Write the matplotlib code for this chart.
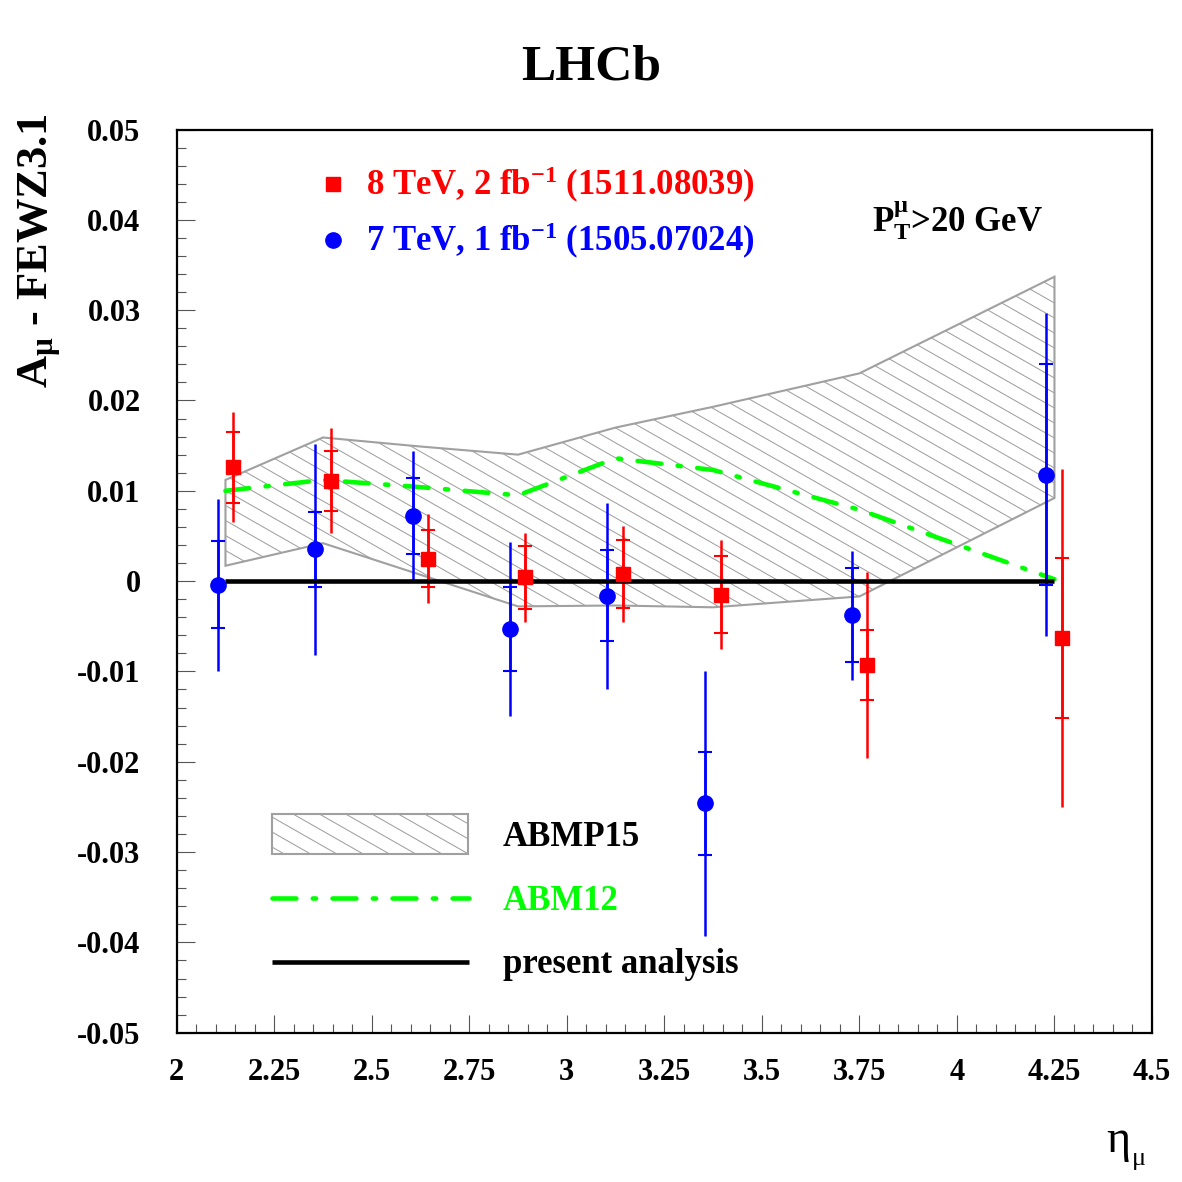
import numpy as np
import matplotlib
matplotlib.use("Agg")
import matplotlib.pyplot as plt
from matplotlib.patches import Polygon, Rectangle
from matplotlib.collections import LineCollection
from matplotlib.lines import Line2D

plt.rcParams['font.family'] = ['Liberation Serif', 'DejaVu Serif']
plt.rcParams['font.weight'] = 'bold'
plt.rcParams['mathtext.fontset'] = 'custom'
plt.rcParams['mathtext.rm'] = 'Liberation Serif:bold'
plt.rcParams['mathtext.it'] = 'Liberation Serif:bold'
plt.rcParams['mathtext.bf'] = 'Liberation Serif:bold'
plt.rcParams['mathtext.default'] = 'rm'

# ---------------- data ----------------
# 7 TeV, 1 fb^-1 (blue circles)
x7 = [2.106, 2.355, 2.606, 2.855, 3.104, 3.355, 3.730, 4.229]
y7 = [-0.0004, 0.0035, 0.0072, -0.0053, -0.0016, -0.0246, -0.0038, 0.0118]
stat7 = [0.0048, 0.0041, 0.0042, 0.0046, 0.0050, 0.0057, 0.0052, 0.0122]
tot7 = [0.0095, 0.0117, 0.0072, 0.0096, 0.0103, 0.0147, 0.0071, 0.0179]

# 8 TeV, 2 fb^-1 (red squares)
x8 = [2.144, 2.396, 2.644, 2.893, 3.144, 3.395, 3.770, 4.269]
y8 = [0.0126, 0.0111, 0.0025, 0.0004, 0.0008, -0.0015, -0.0093, -0.0063]
stat8 = [0.0039, 0.0033, 0.0032, 0.0035, 0.0038, 0.0043, 0.0039, 0.0089]
tot8 = [0.0061, 0.0058, 0.0049, 0.0049, 0.0053, 0.0060, 0.0103, 0.0187]

# theory curves
x_th = [2.125, 2.375, 2.625, 2.875, 3.125, 3.375, 3.75, 4.25]
abmp15_up = [0.0112, 0.0159, 0.0149, 0.0140, 0.0170, 0.0193, 0.0230, 0.0337]
abmp15_lo = [0.0017, 0.0042, 0.0007, -0.0028, -0.0027, -0.0029, -0.0017, 0.0092]
abm12 = [0.0100, 0.0112, 0.0104, 0.0095, 0.0136, 0.0123, 0.0079, 0.0002]
present = [0.0, 0.0, 0.0, 0.0, 0.0, 0.0, 0.0, 0.0]

xticks = [2.0, 2.25, 2.5, 2.75, 3.0, 3.25, 3.5, 3.75, 4.0, 4.25, 4.5]
xticklabels = ['2', '2.25', '2.5', '2.75', '3', '3.25', '3.5', '3.75', '4', '4.25', '4.5']
yticks = [0.05, 0.04, 0.03, 0.02, 0.01, 0.0, -0.01, -0.02, -0.03, -0.04, -0.05]
yticklabels = ['0.05', '0.04', '0.03', '0.02', '0.01', '0', '-0.01', '-0.02', '-0.03', '-0.04', '-0.05']

# ---------------- figure ----------------
FW = FH = 1182
fig = plt.figure(figsize=(11.82, 11.82), dpi=100)
L, R, T, B = 176.7, 1152.0, 129.5, 1032.7
ax = fig.add_axes([L / FW, 1 - B / FH, (R - L) / FW, (B - T) / FH])
ax.set_xlim(2.0, 4.5)
ax.set_ylim(-0.05, 0.05)
W, H = R - L, B - T

def ax_coords(px, py):
    return (px - L) / W, (B - py) / H

for s in ax.spines.values():
    s.set_linewidth(1.6)
    s.set_color('black')

ax.set_xticks(xticks)
ax.set_xticklabels(xticklabels)
ax.set_xticks(np.arange(2.0, 4.5001, 0.05), minor=True)
ax.set_yticks(yticks)
ax.set_yticklabels(yticklabels)
ax.set_yticks(np.arange(-0.05, 0.05001, 0.002), minor=True)
ax.tick_params(which='both', direction='in', top=False, right=False,
               color='#555555', width=0.8)
ax.tick_params(which='major', length=13)
ax.tick_params(which='minor', length=6.5)
ax.tick_params(axis='y', which='major', pad=26, labelsize=22)
ax.tick_params(axis='x', which='major', pad=18, labelsize=22)

# hatch helper
slope_px = 0.57
slope_ax = slope_px * W / H
spacing_ax = 15.0 / H

def hatch_lines(clip_patch):
    cs = np.arange(0, 1 + slope_ax + spacing_ax, spacing_ax)
    segs = [[(0, c), (1, c - slope_ax)] for c in cs]
    lc = LineCollection(segs, colors='#9a9a9a', linewidths=0.7,
                        transform=ax.transAxes, zorder=1)
    ax.add_collection(lc)
    lc.set_clip_path(clip_patch)

# ABMP15 band
verts = list(zip(x_th, abmp15_up)) + list(zip(x_th[::-1], abmp15_lo[::-1]))
band = Polygon(verts, closed=True, facecolor='none', edgecolor='#a0a0a0',
               linewidth=1.5, zorder=2)
ax.add_patch(band)
hatch_lines(band)

# ABM12
dash = (0, (5.2, 3.6, 0.7, 3.6))
ax.plot(x_th, abm12, color='#00ff00', lw=3.3, linestyle=dash,
        dash_capstyle='round', zorder=3)

# error bars
ax.errorbar(x7, y7, yerr=tot7, fmt='none', ecolor='blue', elinewidth=1.8,
            capsize=0, zorder=4)
ax.errorbar(x7, y7, yerr=stat7, fmt='none', ecolor='blue', elinewidth=1.8,
            capsize=5, capthick=1.5, zorder=4)
ax.errorbar(x8, y8, yerr=tot8, fmt='none', ecolor='red', elinewidth=1.8,
            capsize=0, zorder=4)
ax.errorbar(x8, y8, yerr=stat8, fmt='none', ecolor='red', elinewidth=1.8,
            capsize=5, capthick=1.5, zorder=4)

# present analysis line
ax.plot(x_th, present, color='black', lw=3.3, zorder=5, solid_capstyle='butt')

ax.plot(x7, y7, 'o', color='blue', ms=11, mec='blue', zorder=6)
ax.plot(x8, y8, 's', color='red', ms=10, mec='red', zorder=6)

# ---------------- legends ----------------
ax.plot(*ax_coords(333, 184), 's', color='red', ms=10, transform=ax.transAxes, clip_on=False)
ax.plot(*ax_coords(333, 240), 'o', color='blue', ms=11, transform=ax.transAxes, clip_on=False)
fig.text(366 / FW, 1 - 195 / FH, r'8 TeV, 2 fb$^{-1}$ (1511.08039)', color='red',
         fontsize=25, ha='left', va='baseline')
fig.text(366 / FW, 1 - 251 / FH, r'7 TeV, 1 fb$^{-1}$ (1505.07024)', color='blue',
         fontsize=25, ha='left', va='baseline')
fig.text(872 / FW, 1 - 231 / FH, r'$\mathrm{P}_{\mathrm{T}}^{\mathrm{μ}}$>20 GeV',
         color='black', fontsize=25, ha='left', va='baseline')

x0, y0 = ax_coords(272, 854)
x1, y1 = ax_coords(468, 814)
rect = Rectangle((x0, y0), x1 - x0, y1 - y0, transform=ax.transAxes,
                 facecolor='none', edgecolor='#a0a0a0', linewidth=1.5, zorder=2)
ax.add_patch(rect)
hatch_lines(rect)
gx0, gy = ax_coords(272, 898)
gx1, _ = ax_coords(469, 898)
ax.add_line(Line2D([gx0, gx1], [gy, gy], transform=ax.transAxes, color='#00ff00',
                   lw=3.3, linestyle=dash, dash_capstyle='round'))
bx0, by = ax_coords(272, 962)
bx1, _ = ax_coords(469, 962)
ax.add_line(Line2D([bx0, bx1], [by, by], transform=ax.transAxes, color='black',
                   lw=3.3, solid_capstyle='butt'))
fig.text(503 / FW, 1 - 846 / FH, 'ABMP15', color='black', fontsize=25,
         ha='left', va='baseline')
fig.text(503 / FW, 1 - 910 / FH, 'ABM12', color='#00ff00', fontsize=25,
         ha='left', va='baseline')
fig.text(503 / FW, 1 - 973 / FH, 'present analysis', color='black', fontsize=25,
         ha='left', va='baseline')

# ---------------- titles / labels ----------------
fig.text(591 / FW, 1 - 80 / FH, 'LHCb', fontsize=37, ha='center', va='baseline')
fig.text(40 / FW, 1 - 113 / FH, r'A$_{\mathrm{μ}}$ - FEWZ3.1', fontsize=32,
         rotation=90, ha='center', va='top')
fig.text(1106 / FW, 1 - 1152 / FH, 'η', fontsize=33, fontweight='normal',
         ha='left', va='baseline')
fig.text(1132 / FW, 1 - 1165 / FH, 'μ', fontsize=19, fontweight='normal',
         ha='left', va='baseline')

fig.savefig('out.png', dpi=100)
